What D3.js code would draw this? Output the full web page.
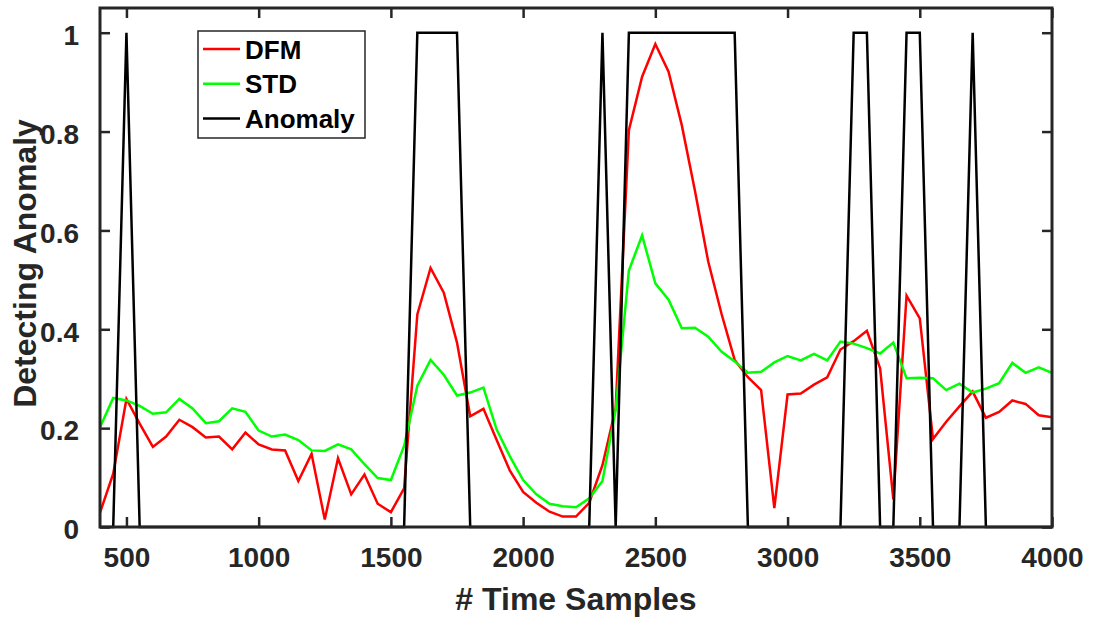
<!DOCTYPE html>
<meta charset="utf-8">
<style>
    body { margin: 0; background: #fff; }
    svg { font-family: "Liberation Sans", Arial, sans-serif; font-weight: bold; }
    .axis text { fill: #262626; font-size: 28px; font-weight: bold; }
    .axis line { stroke: #262626; stroke-width: 2.5; }
    .axis path { display: none; }
</style>
<body>
<script src="https://cdn.jsdelivr.net/npm/d3@7"></script>
<script>

    // time sample positions (x axis)
    var samples = [400, 450, 500, 550, 600, 650, 700, 750, 800, 850, 900, 950,
        1000, 1050, 1100, 1150, 1200, 1250, 1300, 1350, 1400, 1450, 1500, 1550,
        1600, 1650, 1700, 1750, 1800, 1850, 1900, 1950, 2000, 2050, 2100, 2150,
        2200, 2250, 2300, 2350, 2400, 2450, 2500, 2550, 2600, 2650, 2700, 2750,
        2800, 2850, 2900, 2950, 3000, 3050, 3100, 3150, 3200, 3250, 3300, 3350,
        3400, 3450, 3500, 3550, 3600, 3650, 3700, 3750, 3800, 3850, 3900, 3950, 4000];

    var dfm = [0.029, 0.108, 0.259, 0.209, 0.162, 0.183, 0.217, 0.202, 0.181, 0.183, 0.157, 0.191,
        0.167, 0.157, 0.155, 0.093, 0.148, 0.015, 0.139, 0.066, 0.106, 0.047, 0.030, 0.078,
        0.430, 0.524, 0.474, 0.373, 0.224, 0.239, 0.176, 0.114, 0.071, 0.049, 0.031, 0.021,
        0.021, 0.049, 0.125, 0.240, 0.803, 0.911, 0.977, 0.921, 0.813, 0.680, 0.537, 0.432,
        0.338, 0.303, 0.277, 0.038, 0.268, 0.270, 0.288, 0.303, 0.359, 0.376, 0.397, 0.321,
        0.056, 0.468, 0.422, 0.178, 0.213, 0.244, 0.274, 0.221, 0.233, 0.256, 0.249, 0.226, 0.222];

    var std = [0.202, 0.261, 0.256, 0.245, 0.229, 0.232, 0.259, 0.240, 0.210, 0.214, 0.240, 0.233,
        0.195, 0.183, 0.187, 0.176, 0.155, 0.154, 0.167, 0.157, 0.127, 0.099, 0.095, 0.164,
        0.286, 0.338, 0.308, 0.266, 0.272, 0.282, 0.197, 0.143, 0.095, 0.066, 0.047, 0.042,
        0.040, 0.058, 0.093, 0.237, 0.519, 0.590, 0.493, 0.460, 0.402, 0.403, 0.385, 0.355,
        0.335, 0.312, 0.314, 0.333, 0.346, 0.337, 0.350, 0.337, 0.375, 0.371, 0.362, 0.351,
        0.373, 0.301, 0.302, 0.301, 0.277, 0.290, 0.272, 0.280, 0.291, 0.332, 0.312, 0.323, 0.312];

    var anomaly = [0, 0, 1, 0, 0, 0, 0, 0, 0, 0, 0, 0,
        0, 0, 0, 0, 0, 0, 0, 0, 0, 0, 0, 0,
        1, 1, 1, 1, 0, 0, 0, 0, 0, 0, 0, 0,
        0, 0, 1, 0, 1, 1, 1, 1, 1, 1, 1, 1,
        1, 0, 0, 0, 0, 0, 0, 0, 0, 1, 1, 0,
        0, 1, 1, 0, 0, 0, 1, 0, 0, 0, 0, 0, 0];

    var xTicks = [500, 1000, 1500, 2000, 2500, 3000, 3500, 4000];
    var yTicks = [0, 0.2, 0.4, 0.6, 0.8, 1];

    var seriesNames = ["DFM", "STD", "Anomaly"];
    var seriesColors = ["#ff0000", "#00ff00", "#000000"];

    var margin = { top: 8, right: 41, bottom: 91, left: 100 },
        width = 1093 - margin.left - margin.right,
        height = 618 - margin.top - margin.bottom;

    var x = d3.scaleLinear().domain([400, 4000]).range([0, width]);
    var y = d3.scaleLinear().domain([0, 1.05]).range([height, 0]);

    var svg = d3.select("body").append("svg")
        .attr("width", 1093)
        .attr("height", 618)
        .append("g")
        .attr("transform", "translate(" + margin.left + "," + margin.top + ")");

    var fmt = function (d) { return d3.format("~g")(d); };

    // ticks on all four sides, pointing inward
    svg.append("g")
        .attr("class", "x axis")
        .attr("transform", "translate(0," + height + ")")
        .call(d3.axisBottom(x).tickValues(xTicks).tickSizeInner(-10).tickPadding(20).tickFormat(fmt));

    svg.append("g")
        .attr("class", "x axis")
        .call(d3.axisTop(x).tickValues(xTicks).tickSizeInner(-10).tickFormat(""));

    svg.append("g")
        .attr("class", "y axis")
        .call(d3.axisLeft(y).tickValues(yTicks).tickSizeInner(-10).tickPadding(21).tickFormat(fmt));

    svg.append("g")
        .attr("class", "y axis")
        .attr("transform", "translate(" + width + ",0)")
        .call(d3.axisRight(y).tickValues(yTicks).tickSizeInner(-10).tickFormat(""));

    svg.selectAll(".y.axis text").attr("dy", "0.42em");

    // the lines
    var series = [dfm, std, anomaly].map(function (vals) {
        return vals.map(function (v, i) { return { x: samples[i], y: v }; });
    });

    var line = d3.line()
        .x(function (d) { return x(d.x); })
        .y(function (d) { return y(d.y); });

    svg.selectAll(".series")
        .data(series)
        .enter().append("path")
        .attr("class", "series")
        .attr("fill", "none")
        .attr("stroke", function (d, i) { return seriesColors[i]; })
        .attr("stroke-width", 2.5)
        .attr("stroke-linejoin", "miter")
        .attr("d", line);

    // axes box
    svg.append("rect")
        .attr("width", width)
        .attr("height", height)
        .attr("fill", "none")
        .attr("stroke", "#262626")
        .attr("stroke-width", 3);

    // axis titles
    svg.append("text")
        .attr("x", width / 2)
        .attr("y", 602)
        .attr("text-anchor", "middle")
        .attr("fill", "#262626")
        .style("font-size", "32px")
        .text("# Time Samples");

    svg.append("text")
        .attr("transform", "translate(-64," + (height / 2 - 4) + ") rotate(-90)")
        .attr("text-anchor", "middle")
        .attr("fill", "#262626")
        .style("font-size", "32px")
        .text("Detecting Anomaly");

    // legend
    var legend = svg.append("g").attr("transform", "translate(98,23)");

    legend.append("rect")
        .attr("width", 167)
        .attr("height", 107)
        .attr("fill", "#fff")
        .attr("stroke", "#262626")
        .attr("stroke-width", 1.5);

    var item = legend.selectAll(".item")
        .data(seriesNames)
        .enter().append("g")
        .attr("class", "item")
        .attr("transform", function (d, i) { return "translate(0," + (18 + i * 34.7) + ")"; });

    item.append("line")
        .attr("x1", 5).attr("x2", 42)
        .attr("stroke", function (d, i) { return seriesColors[i]; })
        .attr("stroke-width", 2.5);

    item.append("text")
        .attr("x", 47)
        .attr("y", 9.5)
        .attr("fill", "#000")
        .style("font-size", "26px")
        .text(function (d) { return d; });

</script>
